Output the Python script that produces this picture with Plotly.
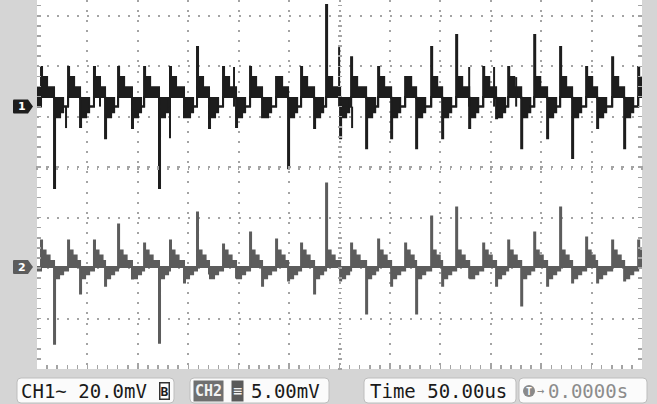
import plotly.graph_objects as go

# ---------------- scope settings (from the status bar) ----------------
TIME_PER_DIV_US = 50.0
CH1_MV_PER_DIV = 20.0
CH2_MV_PER_DIV = 5.0
CH1_POS_DIV = 1.20     # CH1 ground marker position (divisions above centre)
CH2_POS_DIV = -1.98    # CH2 ground marker position
Y_TOP_DIV = 3.313      # screen is cropped at the top
Y_BOT_DIV = -4.0

# ---------------- waveform readings ----------------
# rising edge of every switching cycle (us from left edge of screen)
cycle_start_us = [4.0, 30.8, 56.5, 80.4, 106.2, 131.9, 158.7, 184.5, 211.3, 237.1, 261.9, 286.7,
                  311.5, 338.3, 365.1, 390.9, 415.7, 442.5, 467.3, 493.1, 518.8, 544.6, 570.4, 596.2]
# falling (negative) spike of every cycle
dip_time_us = [16.9, 42.7, 67.5, 94.2, 121.0, 145.8, 170.6, 197.4, 223.2, 249.0, 274.8, 300.6,
               326.4, 351.2, 376.0, 401.8, 428.6, 455.3, 480.2, 505.9, 530.7, 555.5, 582.3, 608.0]

ch1_peak_mv = [15.7, 15.7, 15.7, 15.7, 15.7, 15.7, 23.6, 15.7, 15.7, 11.7, 15.7, 40.3,
               19.6, 15.7, 11.7, 23.6, 28.4, 15.7, 15.7, 28.4, 23.6, 15.7, 19.6, 15.7]
ch1_dip_mv = [-32.3, -8.1, -12.5, -8.5, -32.3, -4.2, -8.5, -8.1, -4.2, -24.4, -8.5, -12.5,
              -16.5, -12.5, -16.5, -12.5, -8.5, -4.6, -16.5, -12.5, -20.4, -8.5, -16.5, -8.5]

ch2_peak_mv = [2.63, 2.63, 2.63, 4.22, 2.33, 2.63, 5.41, 2.23, 3.42, 2.73, 2.33, 8.28,
               2.33, 2.73, 2.33, 5.01, 5.90, 2.33, 2.63, 3.42, 5.90, 2.93, 2.63, 2.63]
ch2_dip_mv = [-7.59, -2.63, -1.84, -1.14, -7.49, -1.54, -0.64, -1.04, -1.84, -1.34, -2.63, -1.34,
              -4.61, -1.84, -4.61, -1.84, -1.04, -1.84, -3.82, -1.84, -1.54, -1.54, -1.34, -1.34]

# staircase levels seen after each edge (mV) and when they start (us after the edge / spike)
ch1_rise_steps_mv = [11.7, 7.7]
ch1_rise_step_us = [1.0, 6.0]
ch1_rise_floor_mv = 3.8
ch1_fall_ceiling_mv = 3.4
ch1_fall_steps_mv = [-4.2, -2.2]
ch1_fall_step_us = [1.0, 6.0]
ch1_settle_us = 9.0
ch1_lead_in_mv = [7.7, 0.0]

ch2_rise_steps_mv = [1.65, 1.15, 0.6]
ch2_rise_step_us = [1.0, 4.5, 8.5]
ch2_fall_steps_mv = [-1.1, -0.7, -0.35]
ch2_fall_step_us = [1.0, 5.0, 9.0]
ch2_lead_in_mv = [0.0, -0.35]

# extra narrow glitches on CH1
ch1_glitch_us = [28.8, 62.5, 131.9, 195.4, 299.6, 312.5, 428.6, 453.3, 475.2]
ch1_glitch_mv = [-8.5, 11.7, -12.5, 15.7, 23.6, -8.5, 15.7, 15.7, 11.7]

C1 = "#1d1d1d"
C2 = "#5c5c5c"
GRID = "#a4a4a4"


def envelope(peaks, dips, rise_steps, rise_us, floor, ceiling, fall_steps, fall_us, settle, lead):
    t, hi, lo = [0.0], [lead[0]], [lead[1]]
    n = len(cycle_start_us)
    for i in range(n):
        s = cycle_start_us[i]
        d = dip_time_us[i]
        nxt = cycle_start_us[i + 1] if i + 1 < n else 1e9
        ev = [(s, peaks[i], floor)]
        ev += [(s + o, v, floor) for o, v in zip(rise_us, rise_steps)]
        ev += [(d, ceiling, dips[i])]
        ev += [(d + o, ceiling, v) for o, v in zip(fall_us, fall_steps)]
        if settle is not None:
            ev.append((d + settle, 0.0, 0.0))
        for tt, h, l in ev:
            if tt < nxt:
                t.append(tt)
                hi.append(h)
                lo.append(l)
    t.append(620.0)
    hi.append(hi[-1])
    lo.append(lo[-1])
    return t, hi, lo


t1, hi1, lo1 = envelope(ch1_peak_mv, ch1_dip_mv, ch1_rise_steps_mv, ch1_rise_step_us,
                        ch1_rise_floor_mv, ch1_fall_ceiling_mv, ch1_fall_steps_mv,
                        ch1_fall_step_us, ch1_settle_us, ch1_lead_in_mv)
t2, hi2, lo2 = envelope(ch2_peak_mv, ch2_dip_mv, ch2_rise_steps_mv, ch2_rise_step_us,
                        0.0, 0.0, ch2_fall_steps_mv, ch2_fall_step_us, None, ch2_lead_in_mv)

fig = go.Figure()
# anchors so that every axis is drawn
fig.add_trace(go.Scatter(x=[], y=[], xaxis="x", yaxis="y", showlegend=False))
fig.add_trace(go.Scatter(x=[], y=[], xaxis="x2", yaxis="y", showlegend=False))
fig.add_trace(go.Scatter(x=[], y=[], xaxis="x", yaxis="y4", showlegend=False))

lw = 2.0
fig.add_trace(go.Scatter(x=t1, y=lo1, yaxis="y2", mode="lines",
                         line=dict(color=C1, width=lw, shape="hv"), hoverinfo="skip", showlegend=False))
fig.add_trace(go.Scatter(x=t1, y=hi1, yaxis="y2", mode="lines", fill="tonexty", fillcolor=C1,
                         line=dict(color=C1, width=lw, shape="hv"), hoverinfo="skip", showlegend=False))
gx, gy = [], []
for tt, v in zip(ch1_glitch_us, ch1_glitch_mv):
    gx += [tt, tt, None]
    gy += [0.0, v, None]
fig.add_trace(go.Scatter(x=gx, y=gy, yaxis="y2", mode="lines",
                         line=dict(color=C1, width=lw), hoverinfo="skip", showlegend=False))
fig.add_trace(go.Scatter(x=t2, y=lo2, yaxis="y3", mode="lines",
                         line=dict(color=C2, width=lw, shape="hv"), hoverinfo="skip", showlegend=False))
fig.add_trace(go.Scatter(x=t2, y=hi2, yaxis="y3", mode="lines", fill="tonexty", fillcolor=C2,
                         line=dict(color=C2, width=lw, shape="hv"), hoverinfo="skip", showlegend=False))

W, H = 657, 404
ML, MR, MT, MB = 37, 15, 0, 35
PW, PH = W - ML - MR, H - MT - MB
XMAX = 12 * TIME_PER_DIV_US
dash = "2px,%.2fpx" % (PW / 12 / 5 - 2)

fig.update_layout(
    width=W, height=H,
    margin=dict(l=ML, r=MR, t=MT, b=MB, pad=0),
    paper_bgcolor="#d5d5d5", plot_bgcolor="#ffffff",
    showlegend=False,
    xaxis=dict(range=[0, XMAX], dtick=TIME_PER_DIV_US, tick0=0, showgrid=True, gridcolor=GRID,
               gridwidth=2, griddash=dash, zeroline=False, showticklabels=False, showline=False,
               ticks="inside", ticklen=4, tickwidth=1.5, tickcolor=GRID,
               minor=dict(dtick=TIME_PER_DIV_US / 5, tick0=0, ticks="inside", ticklen=4,
                          tickwidth=1.5, tickcolor=GRID, showgrid=False)),
    xaxis2=dict(overlaying="x", anchor="free", position=(-Y_BOT_DIV) / (Y_TOP_DIV - Y_BOT_DIV) + 2 / PH,
                range=[0, XMAX], dtick=TIME_PER_DIV_US / 5, tick0=0, ticks="outside", ticklen=4,
                tickwidth=1.5, tickcolor=GRID, showgrid=False, zeroline=False, showline=False,
                showticklabels=False),
    yaxis=dict(range=[Y_BOT_DIV, Y_TOP_DIV], dtick=1, tick0=0, showgrid=True, gridcolor=GRID,
               gridwidth=2, griddash=dash, zeroline=False, showticklabels=False, showline=False,
               ticks="inside", ticklen=4, tickwidth=1.5, tickcolor=GRID, mirror="ticks",
               minor=dict(dtick=0.2, tick0=0, ticks="inside", ticklen=4, tickwidth=1.5,
                          tickcolor=GRID, showgrid=False)),
    yaxis4=dict(overlaying="y", anchor="free", position=0.5 + 2 / PW, side="left",
                range=[Y_BOT_DIV, Y_TOP_DIV], dtick=0.2, tick0=0, ticks="outside", ticklen=4,
                tickwidth=1.5, tickcolor=GRID, showgrid=False, zeroline=False, showline=False,
                showticklabels=False),
    yaxis2=dict(overlaying="y", visible=False,
                range=[(Y_BOT_DIV - CH1_POS_DIV) * CH1_MV_PER_DIV, (Y_TOP_DIV - CH1_POS_DIV) * CH1_MV_PER_DIV]),
    yaxis3=dict(overlaying="y", visible=False,
                range=[(Y_BOT_DIV - CH2_POS_DIV) * CH2_MV_PER_DIV, (Y_TOP_DIV - CH2_POS_DIV) * CH2_MV_PER_DIV]),
)

# ---------------- channel ground markers ----------------
marker_path = "M-24,-6 Q-24,-7 -23,-7 L-9,-7 L-4,0 L-9,7 L-23,7 Q-24,7 -24,6 Z"
for yref, col, label in [("y2", C1, "1"), ("y3", C2, "2")]:
    fig.add_shape(type="path", xref="paper", yref=yref, xsizemode="pixel", ysizemode="pixel",
                  xanchor=0, yanchor=0, path=marker_path, fillcolor=col, line=dict(width=0))
    fig.add_annotation(x=-15 / PW, y=0, xref="paper", yref=yref, text="<b>%s</b>" % label,
                       showarrow=False, font=dict(family="DejaVu Sans", size=11, color="#ffffff"),
                       xanchor="center", yanchor="middle")


# ---------------- status bar ----------------
def px(x):
    return (x - ML) / PW


def py(y):
    return (MT + PH - y) / PH


def rbox(x0, x1, y0, y1, r=4):
    a, b = x0 - ML, x1 - ML
    top, bot = (MT + PH) - y0, (MT + PH) - y1
    return ("M%g,%g L%g,%g Q%g,%g %g,%g L%g,%g Q%g,%g %g,%g L%g,%g Q%g,%g %g,%g L%g,%g Q%g,%g %g,%g Z" % (
        a + r, top, b - r, top, b, top, b, top - r, b, bot + r, b, bot, b - r, bot,
        a + r, bot, a, bot, a, bot + r, a, top - r, a, top, a + r, top))


for x0, x1 in [(17, 174), (190, 329), (364, 516), (519, 647)]:
    fig.add_shape(type="path", xref="paper", yref="paper", xsizemode="pixel", ysizemode="pixel",
                  xanchor=0, yanchor=0, path=rbox(x0, x1, 378, 403), fillcolor="#fbfbfb",
                  line=dict(color="#bdbdbd", width=1))

# circular trigger icon
cx, cy, r = 529 - ML, (MT + PH) - 391, 6
fig.add_shape(type="circle", xref="paper", yref="paper", xsizemode="pixel", ysizemode="pixel",
              xanchor=0, yanchor=0, x0=cx - r, x1=cx + r, y0=cy - r, y1=cy + r,
              fillcolor="#8a8a8a", line=dict(width=0))

FONT = "DejaVu Sans Mono"
YC = py(391)


def label(x, text, color="#1a1a1a", size=19, anchor="left", **kw):
    fig.add_annotation(x=px(x), y=YC, xref="paper", yref="paper", text=text, showarrow=False,
                       xanchor=anchor, yanchor="middle", font=dict(family=FONT, size=size, color=color), **kw)


label(19, "CH1~ 20.0mV")
label(164, "<b>B</b>", size=13, anchor="center", bordercolor="#333333", borderwidth=1.5, borderpad=0,
      bgcolor="#ffffff")
label(193, "<b>CH2</b>", color="#f2f2f2", size=15, bgcolor="#6f6f6f", borderpad=1)
label(237, "≡", color="#f2f2f2", size=15, anchor="center", bgcolor="#5a5a5a", borderpad=1)
label(249, "5.00mV")
label(368, "Time 50.00us")
label(529, "<b>T</b>", color="#ffffff", size=10, anchor="center")
label(540, "→", color="#8a8a8a", size=12, anchor="center")
label(546, "0.0000s", color="#8c8c8c")

fig.write_html("out.html", config={"displayModeBar": False, "staticPlot": True},
               post_script="document.body.style.margin='0';document.body.style.overflow='hidden';")
